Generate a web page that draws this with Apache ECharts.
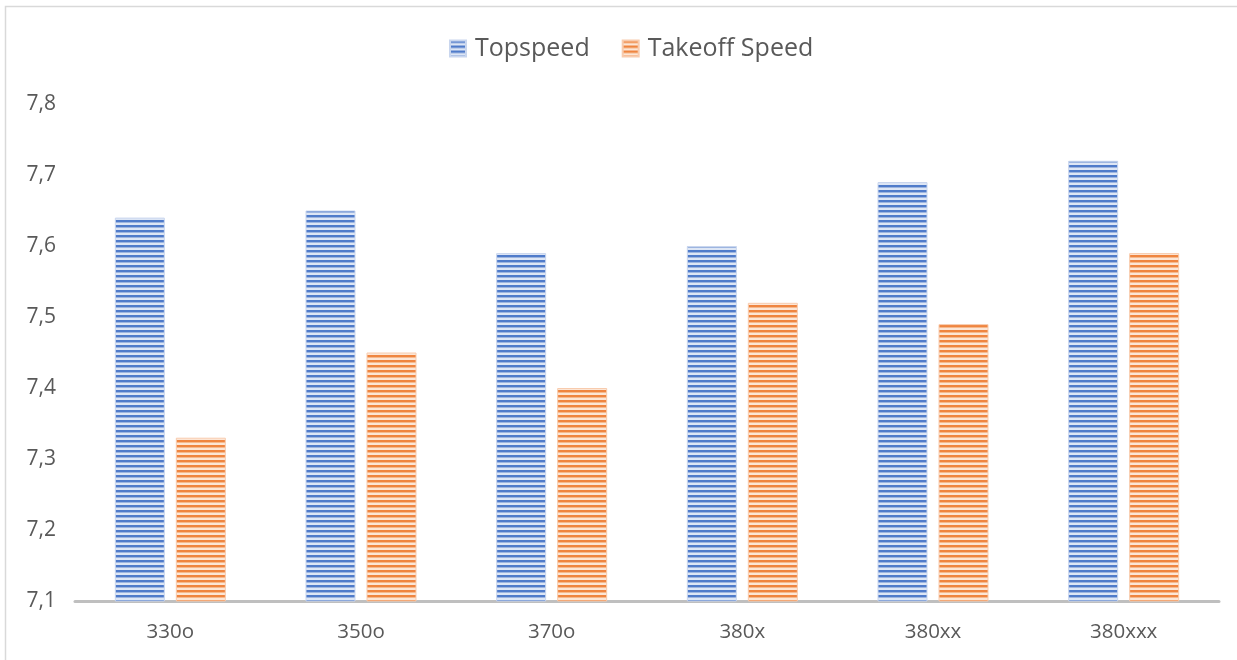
<!DOCTYPE html>
<html>
<head>
<meta charset="utf-8">
<script src="https://cdn.jsdelivr.net/npm/echarts@6/dist/echarts.min.js"></script>
<style>
  html, body { margin: 0; padding: 0; background: #fff; }
  #chart { width: 1237px; height: 660px; }
</style>
</head>
<body>
<div id="chart"></div>
<script>
var categories = ['330o', '350o', '370o', '380x', '380xx', '380xxx'];
var topspeed = [7.64, 7.65, 7.59, 7.60, 7.69, 7.72];
var takeoffSpeed = [7.33, 7.45, 7.40, 7.52, 7.49, 7.59];

// horizontal stripe fill, like the office pattern
function stripes(dark, mid, light) {
    var c = document.createElement('canvas');
    c.width = 4;
    c.height = 5;
    var ctx = c.getContext('2d');
    ctx.fillStyle = light;
    ctx.fillRect(0, 0, 4, 5);
    ctx.fillStyle = dark;
    ctx.fillRect(0, 0, 4, 2);
    ctx.fillStyle = mid;
    ctx.fillRect(0, 2, 4, 1);
    return { image: c, repeat: 'repeat' };
}

var blueFill = stripes('#4f7bca', '#9db5e0', '#dde6f5');
var orangeFill = stripes('#ef8540', '#f6b98d', '#fce6d6');

var chartDom = document.getElementById('chart');
var myChart = echarts.init(chartDom);
var option;

option = {
    animation: false,
    textStyle: { fontFamily: 'Open Sans, sans-serif' },
    graphic: [
        {
            type: 'rect',
            shape: { x: 5.5, y: 6.5, width: 1240, height: 700 },
            style: { fill: 'none', stroke: '#d9d9d9', lineWidth: 1.5 },
            silent: true
        }
    ],
    legend: {
        top: 31,
        left: 444,
        itemWidth: 16,
        itemHeight: 16,
        itemGap: 32,
        textStyle: { fontSize: 25, color: '#595959', padding: [0, 0, 0, 4] },
        data: [
            { name: 'Topspeed', icon: 'rect' },
            { name: 'Takeoff Speed', icon: 'rect' }
        ]
    },
    grid: { left: 75, right: 18, top: 104, bottom: 59 },
    xAxis: {
        type: 'category',
        data: categories,
        axisLine: { lineStyle: { color: '#bfbfbf', width: 3 } },
        axisTick: { show: false },
        axisLabel: { fontSize: 20.5, color: '#595959', margin: 21 }
    },
    yAxis: {
        type: 'value',
        min: 7.1,
        max: 7.8,
        interval: 0.1,
        splitLine: { show: false },
        axisLine: { show: false },
        axisTick: { show: false },
        axisLabel: {
            fontSize: 21,
            color: '#595959',
            margin: 19,
            formatter: function (v) { return v.toFixed(1).replace('.', ','); }
        }
    },
    series: [
        {
            name: 'Topspeed',
            type: 'bar',
            data: topspeed,
            barWidth: 50,
            barGap: '22%',
            itemStyle: { color: blueFill, borderColor: '#c9d6ee', borderWidth: 1 }
        },
        {
            name: 'Takeoff Speed',
            type: 'bar',
            data: takeoffSpeed,
            barWidth: 50,
            barGap: '22%',
            itemStyle: { color: orangeFill, borderColor: '#f8cbad', borderWidth: 1 }
        }
    ]
};
option && myChart.setOption(option);
</script>
</body>
</html>
